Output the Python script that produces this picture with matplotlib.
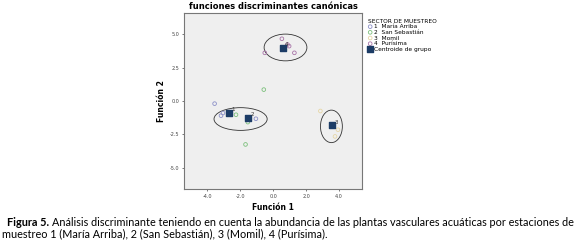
import matplotlib.pyplot as plt
from matplotlib.patches import Ellipse

# discriminant scores per sector (Función 1, Función 2)
g1_x = [-3.56, -3.17, -3.05, -1.05]
g1_y = [-0.20, -1.10, -0.90, -1.33]
g2_x = [-0.57, -2.26, -1.54, -1.68]
g2_y = [0.85, -1.03, -1.58, -3.25]
g3_x = [2.87, 3.94, 3.76]
g3_y = [-0.75, -2.15, -2.65]
g4_x = [0.53, 0.97, 0.87, -0.51, 1.29]
g4_y = [4.65, 4.10, 4.22, 3.60, 3.60]

cent_x = [-2.69, -1.52, 3.58, 0.57]
cent_y = [-0.88, -1.25, -1.83, 3.98]
cent_lab = ["1", "2", "3", "4"]

# ellipses drawn around clusters: center x, center y, width, height
ell_cx = [-1.98, 3.54, 0.75]
ell_cy = [-1.35, -1.90, 4.00]
ell_w = [3.23, 1.33, 2.60]
ell_h = [1.70, 2.43, 2.00]

names = ["María Arriba", "San Sebastián", "Momil", "Purísima"]
colors = ["#8c90c8", "#7cc07c", "#e6d6a6", "#a874a8"]

fig = plt.figure(figsize=(5.76, 2.49), dpi=100)
ax = fig.add_axes([0.32, 0.24, 0.3085, 0.709])
ax.set_facecolor("#efefef")

groups = [(g1_x, g1_y), (g2_x, g2_y), (g3_x, g3_y), (g4_x, g4_y)]
for i, (gx, gy) in enumerate(groups):
    ax.scatter(gx, gy, s=7, facecolors="none", edgecolors=colors[i], linewidths=0.6,
               label=f"{i+1}  {names[i]}", zorder=3)
ax.scatter(cent_x, cent_y, s=22, marker="s", color="#1c3c66", label="Centroide de grupo", zorder=4)
for x, y, t in zip(cent_x, cent_y, cent_lab):
    ax.text(x + 0.15, y + 0.12, t, fontsize=4, color="#333333", zorder=5)

for cx, cy, w, h in zip(ell_cx, ell_cy, ell_w, ell_h):
    ax.add_patch(Ellipse((cx, cy), w, h, fill=False, edgecolor="#333333", linewidth=0.6, zorder=2))

ax.set_xlim(-5.4, 5.4)
ax.set_ylim(-6.6, 6.6)
ax.set_xticks([-4, -2, 0, 2, 4])
ax.set_xticklabels(["-4.0", "-2.0", "0.0", "2.0", "4.0"])
ax.set_yticks([-5, -2.5, 0, 2.5, 5])
ax.set_yticklabels(["-5.0", "-2.5", "0.0", "2.5", "5.0"])
ax.tick_params(labelsize=3.5, length=1.5, width=0.5, colors="#444444", pad=2)
for s in ax.spines.values():
    s.set_color("#777777")
    s.set_linewidth(0.8)

ax.set_xlabel("Función 1", fontsize=5.5, fontweight="bold", labelpad=3)
ax.set_ylabel("Función 2", fontsize=5.5, fontweight="bold", labelpad=3)
ax.set_title("funciones discriminantes canónicas", fontsize=6, fontweight="bold", pad=3)

leg = ax.legend(loc="upper left", bbox_to_anchor=(1.0, 1.0), frameon=False, fontsize=4.2,
                title="SECTOR DE MUESTREO", title_fontsize=4.2, handletextpad=0.2,
                labelspacing=0.1, handlelength=0.8, borderaxespad=0.6, markerscale=1.0)
leg._legend_box.align = "left"

# caption
fig.canvas.draw()
r = fig.canvas.get_renderer()
t1 = fig.text(0.012, 0.093, "Figura 5.", fontsize=7.8, fontweight="bold", family="Lato", va="baseline")
bb = t1.get_window_extent(r)
x_next = (bb.x1 + 3) / fig.bbox.width
fig.text(x_next, 0.093, "Análisis discriminante teniendo en cuenta la abundancia de las plantas vasculares acuáticas por estaciones de",
         fontsize=7.8, family="Lato", va="baseline")
fig.text(0.004, 0.046, "muestreo 1 (María Arriba), 2 (San Sebastián), 3 (Momil), 4 (Purísima).",
         fontsize=7.8, family="Lato", va="baseline")

fig.savefig("out.png", dpi=100)
